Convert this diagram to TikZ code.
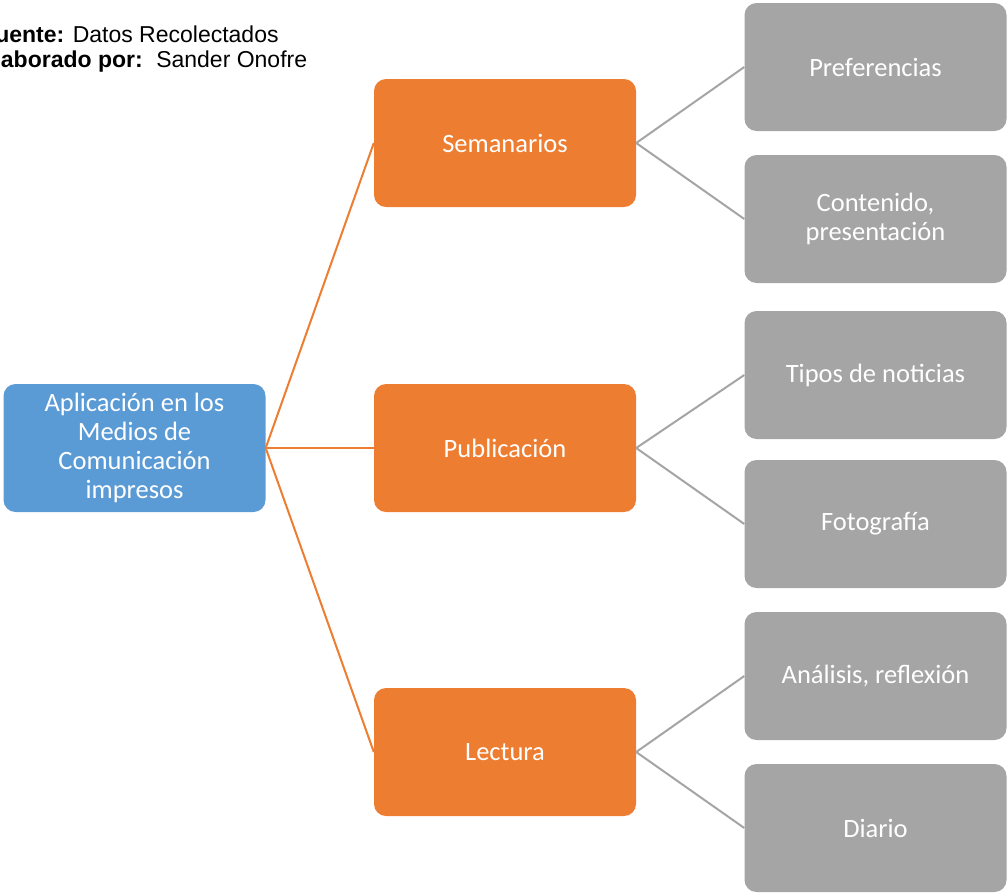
\documentclass[tikz,border=0pt]{standalone}
\usepackage{fontspec}
\setmainfont{Carlito}
\newfontfamily\arialfont{Liberation Sans}
\definecolor{rootblue}{HTML}{5B9BD5}
\definecolor{midorange}{HTML}{ED7D31}
\definecolor{leafgray}{HTML}{A5A5A5}
\begin{document}
\begin{tikzpicture}[x=1pt,y=-1pt,
  box/.style={rounded corners=12pt, minimum width=262pt, minimum height=128pt,
    align=center, text=white, font=\fontsize{26.5}{29}\selectfont, inner sep=0pt},
  rootbox/.style={box, fill=rootblue},
  midbox/.style={box, fill=midorange},
  leafbox/.style={box, fill=leafgray},
  orangeline/.style={draw=midorange, line width=2pt},
  grayline/.style={draw=leafgray, line width=2pt},
  srctext/.style={anchor=base west, inner sep=0pt, font=\arialfont\fontsize{23}{26.5}\selectfont}
]
\useasboundingbox (0,0) rectangle (1008,895);
\begin{scope}
\clip (0,0) rectangle (1008,895);
\node[srctext] (src1) at (-19,42) {\textbf{Fuente:} Datos Recolectados};
\node[srctext] (src2) at (-21,67) {\textbf{Elaborado por:}\hspace{5pt} Sander Onofre};
\end{scope}

\node[rootbox] (root) at (134.5,448) {Aplicación en los\\Medios de\\Comunicación\\impresos};

\node[midbox] (sem) at (505,143) {Semanarios};
\node[midbox] (pub) at (505,448) {Publicación};
\node[midbox] (lec) at (505,752) {Lectura};

\node[leafbox] (pref) at (875.5,67) {Preferencias};
\node[leafbox] (cont) at (875.5,219) {Contenido,\\presentación};
\node[leafbox] (tipos) at (875.5,375) {Tipos de noticias};
\node[leafbox] (foto) at (875.5,524) {Fotografía};
\node[leafbox] (anal) at (875.5,676) {Análisis, reflexión};
\node[leafbox] (diar) at (875.5,828) {Diario};

\draw[orangeline] (root.east) -- (sem.west);
\draw[orangeline] (root.east) -- (pub.west);
\draw[orangeline] (root.east) -- (lec.west);

\draw[grayline] (sem.east) -- (pref.west);
\draw[grayline] (sem.east) -- (cont.west);
\draw[grayline] (pub.east) -- (tipos.west);
\draw[grayline] (pub.east) -- (foto.west);
\draw[grayline] (lec.east) -- (anal.west);
\draw[grayline] (lec.east) -- (diar.west);
\end{tikzpicture}
\end{document}
